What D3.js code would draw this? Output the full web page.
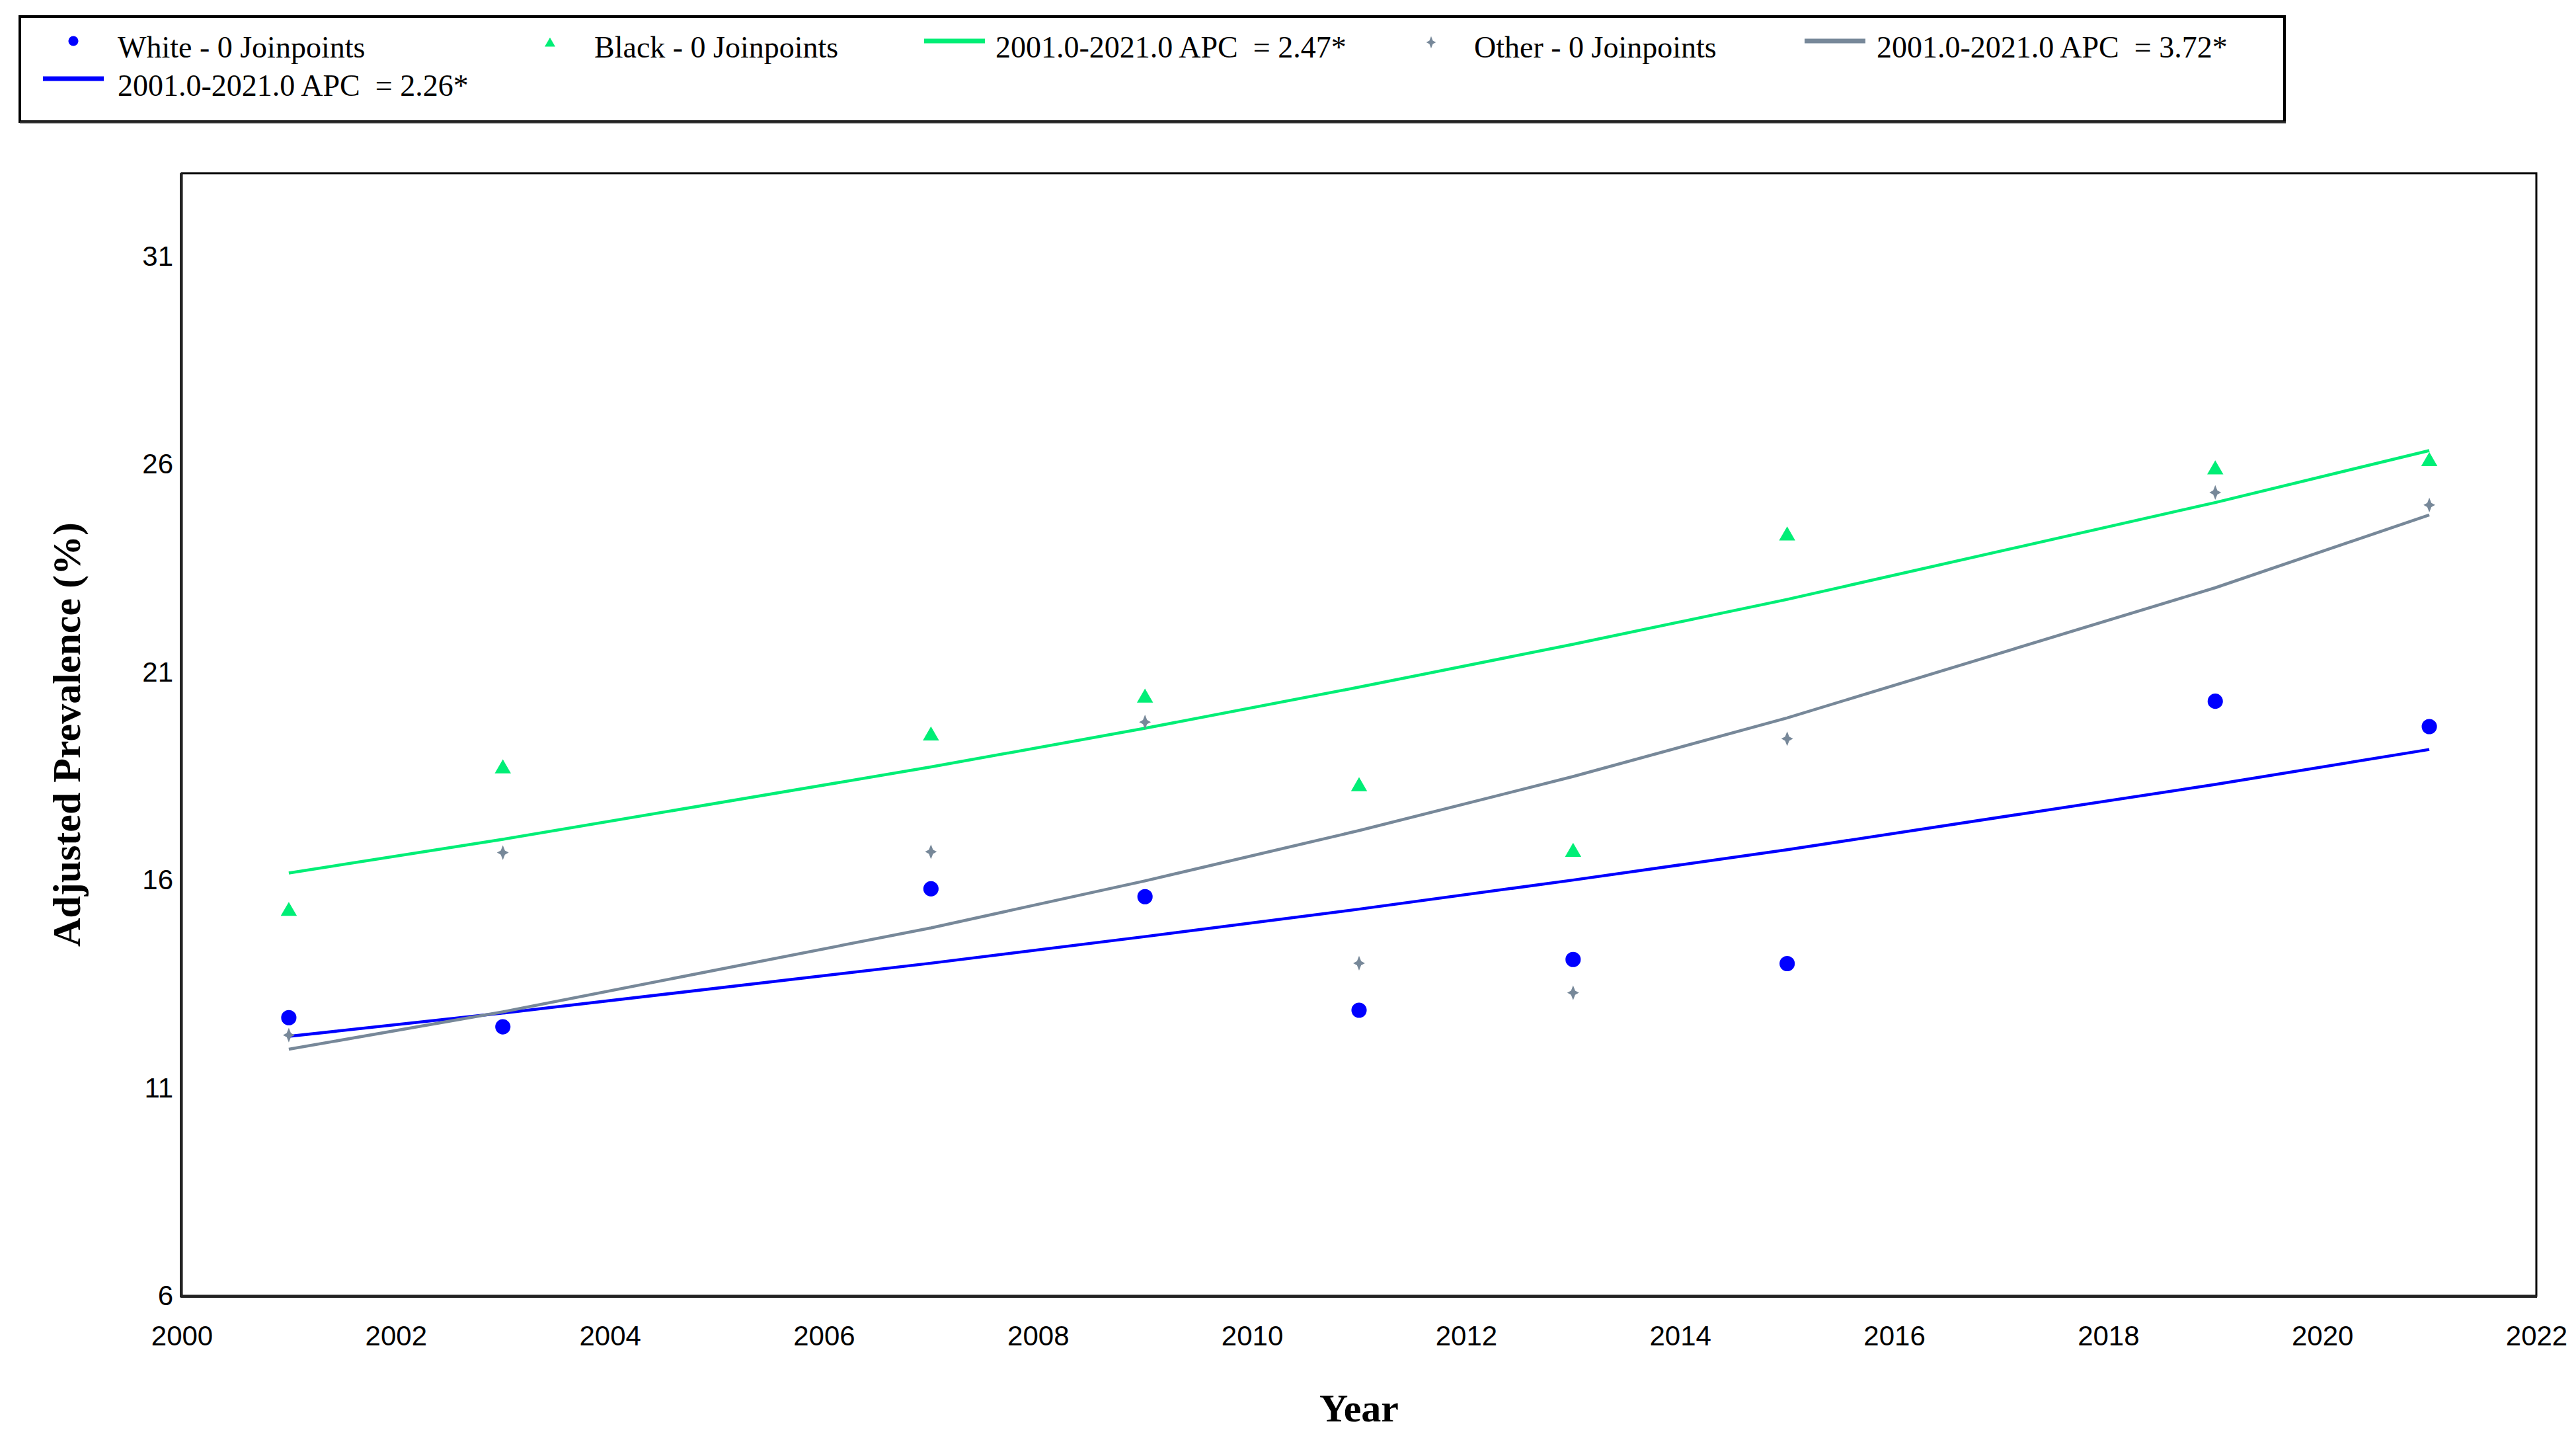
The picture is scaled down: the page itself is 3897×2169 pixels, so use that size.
<!DOCTYPE html>
<html>
<head>
<meta charset="utf-8">
<script src="https://cdn.jsdelivr.net/npm/d3@7"></script>
<style>
  html, body { margin: 0; padding: 0; background: #fff; overflow: hidden; }
  svg { display: block; }
  text { white-space: pre; }
</style>
</head>
<body>
<script>
// ---------- data ----------
const years = [2001, 2003, 2007, 2009, 2011, 2013, 2015, 2019, 2021];
const whiteObserved = [12.69, 12.47, 15.79, 15.60, 12.87, 14.09, 13.99, 20.30, 19.69];
const blackObserved = [15.25, 18.68, 19.47, 20.38, 18.25, 16.67, 24.28, 25.87, 26.07];
const otherObserved = [12.27, 16.66, 16.68, 19.80, 14.00, 13.29, 19.40, 25.32, 25.02];
const whiteFitted = [12.24, 12.80, 14.00, 14.64, 15.30, 16.00, 16.73, 18.30, 19.14];
const blackFitted = [16.17, 16.98, 18.72, 19.65, 20.64, 21.67, 22.75, 25.08, 26.33];
const otherFitted = [11.93, 12.83, 14.85, 15.98, 17.19, 18.49, 19.90, 23.03, 24.78];
const xTicks = [2000, 2002, 2004, 2006, 2008, 2010, 2012, 2014, 2016, 2018, 2020, 2022];
const yTicks = [6, 11, 16, 21, 26, 31];
const legendLabels = [
  "White - 0 Joinpoints",
  "Black - 0 Joinpoints",
  "2001.0-2021.0 APC  = 2.47*",
  "Other - 0 Joinpoints",
  "2001.0-2021.0 APC  = 3.72*",
  "2001.0-2021.0 APC  = 2.26*"
];
const xTitle = "Year";
const yTitle = "Adjusted Prevalence (%)";

// ---------- styles ----------
const W = 3897, H = 2169;
const cWhite = "#0000ff", cBlack = "#00ee76", cOther = "#778899";
const serif = "'Liberation Serif', 'Times New Roman', serif";
const sans = "'Liberation Sans', Arial, sans-serif";

const svg = d3.select("body").append("svg").attr("width", W).attr("height", H);
svg.append("rect").attr("width", W).attr("height", H).attr("fill", "#fff");

const x = d3.scaleLinear().domain([2000, 2022]).range([275, 3837]);
const y = d3.scaleLinear().domain([6, 33]).range([1960, 262]);

// 4-point star symbol for "Other"
const star4 = {
  draw(ctx, size) {
    const r = Math.sqrt(size) * 0.75, w = r * 0.28;
    ctx.moveTo(0, -r); ctx.lineTo(w, -w); ctx.lineTo(r * 0.8, 0); ctx.lineTo(w, w);
    ctx.lineTo(0, r); ctx.lineTo(-w, w); ctx.lineTo(-r * 0.8, 0); ctx.lineTo(-w, -w);
    ctx.closePath();
  }
};

// ---------- plot frame ----------
svg.append("rect")
  .attr("x", x.range()[0]).attr("y", y.range()[1])
  .attr("width", x.range()[1] - x.range()[0]).attr("height", y.range()[0] - y.range()[1])
  .attr("fill", "none").attr("stroke", "#000").attr("stroke-width", 3);
svg.append("line").attr("x1", x.range()[0] - 1).attr("x2", x.range()[0] - 1)
  .attr("y1", y.range()[1]).attr("y2", y.range()[0] + 2)
  .attr("stroke", "#222").attr("stroke-width", 4);
svg.append("line").attr("x1", x.range()[0] - 2).attr("x2", x.range()[1] + 1)
  .attr("y1", y.range()[0] + 1).attr("y2", y.range()[0] + 1)
  .attr("stroke", "#222").attr("stroke-width", 4);

// ---------- axes ----------
const gx = svg.append("g").attr("transform", `translate(0,${y.range()[0]})`)
  .call(d3.axisBottom(x).tickValues(xTicks).tickFormat(d3.format("d")).tickSize(0).tickPadding(45));
gx.select(".domain").remove();
gx.selectAll("text").attr("font-family", sans).attr("font-size", 42).attr("fill", "#000");

const gy = svg.append("g").attr("transform", `translate(${x.range()[0]},0)`)
  .call(d3.axisLeft(y).tickValues(yTicks).tickFormat(d3.format("d")).tickSize(0).tickPadding(13));
gy.select(".domain").remove();
gy.selectAll("text").attr("font-family", sans).attr("font-size", 42).attr("fill", "#000");

svg.append("text").text(xTitle)
  .attr("x", (x.range()[0] + x.range()[1]) / 2).attr("y", 2150)
  .attr("text-anchor", "middle").attr("font-family", serif).attr("font-weight", "bold")
  .attr("font-size", 60).attr("fill", "#000");
svg.append("text").text(yTitle)
  .attr("transform", `translate(121,${(y.range()[0] + y.range()[1]) / 2}) rotate(-90)`)
  .attr("text-anchor", "middle").attr("font-family", serif).attr("font-weight", "bold")
  .attr("font-size", 60).attr("fill", "#000");

// ---------- fitted lines ----------
const line = d3.line().x(d => x(d[0])).y(d => y(d[1]));
const fits = [
  { vals: whiteFitted, color: cWhite },
  { vals: otherFitted, color: cOther },
  { vals: blackFitted, color: cBlack }
];
fits.forEach(f => {
  svg.append("path").datum(years.map((yr, i) => [yr, f.vals[i]]))
    .attr("d", line).attr("fill", "none").attr("stroke", f.color).attr("stroke-width", 4.5);
});

// ---------- observed points ----------
const sym = (type, size) => d3.symbol().type(type).size(size);
svg.append("g").selectAll("path").data(years.map((yr, i) => [yr, whiteObserved[i]])).join("path")
  .attr("d", sym(d3.symbolCircle, 420)).attr("transform", d => `translate(${x(d[0])},${y(d[1])})`)
  .attr("fill", cWhite);
svg.append("g").selectAll("path").data(years.map((yr, i) => [yr, blackObserved[i]])).join("path")
  .attr("d", sym(d3.symbolTriangle, 260)).attr("transform", d => `translate(${x(d[0])},${y(d[1])})`)
  .attr("fill", cBlack);
svg.append("g").selectAll("path").data(years.map((yr, i) => [yr, otherObserved[i]])).join("path")
  .attr("d", sym(star4, 220)).attr("transform", d => `translate(${x(d[0])},${y(d[1])})`)
  .attr("fill", cOther);

// ---------- legend ----------
const lg = svg.append("g");
lg.append("rect").attr("x", 30).attr("y", 25).attr("width", 3426).attr("height", 159)
  .attr("fill", "#fff").attr("stroke", "#000").attr("stroke-width", 4);
lg.append("line").attr("x1", 30).attr("x2", 3458).attr("y1", 185).attr("y2", 185)
  .attr("stroke", "#333").attr("stroke-width", 3);

const fs = 46;
const legendItems = [
  { kind: "circle", mx: 111, tx: 178, row: 0, color: cWhite, label: legendLabels[0] },
  { kind: "tri", mx: 832, tx: 899, row: 0, color: cBlack, label: legendLabels[1] },
  { kind: "line", mx: 1398, tx: 1506, row: 0, color: cBlack, label: legendLabels[2] },
  { kind: "star", mx: 2165, tx: 2230, row: 0, color: cOther, label: legendLabels[3] },
  { kind: "line", mx: 2730, tx: 2839, row: 0, color: cOther, label: legendLabels[4] },
  { kind: "line", mx: 65, tx: 178, row: 1, color: cWhite, label: legendLabels[5] }
];
legendItems.forEach(it => {
  const base = it.row === 0 ? 87 : 145;
  const my = it.row === 0 ? 62 : 119;
  if (it.kind === "line") {
    lg.append("line").attr("x1", it.mx).attr("x2", it.mx + 92).attr("y1", my).attr("y2", my)
      .attr("stroke", it.color).attr("stroke-width", 7);
  } else if (it.kind === "circle") {
    lg.append("path").attr("d", sym(d3.symbolCircle, 180)).attr("transform", `translate(${it.mx},${my})`).attr("fill", it.color);
  } else if (it.kind === "tri") {
    lg.append("path").attr("d", sym(d3.symbolTriangle, 110)).attr("transform", `translate(${it.mx},${my + 4})`).attr("fill", it.color);
  } else {
    lg.append("path").attr("d", sym(star4, 150)).attr("transform", `translate(${it.mx},${my + 2})`).attr("fill", it.color);
  }
  lg.append("text").text(it.label).attr("x", it.tx).attr("y", base)
    .attr("font-family", serif).attr("font-size", fs).attr("fill", "#000");
});
</script>
</body>
</html>
